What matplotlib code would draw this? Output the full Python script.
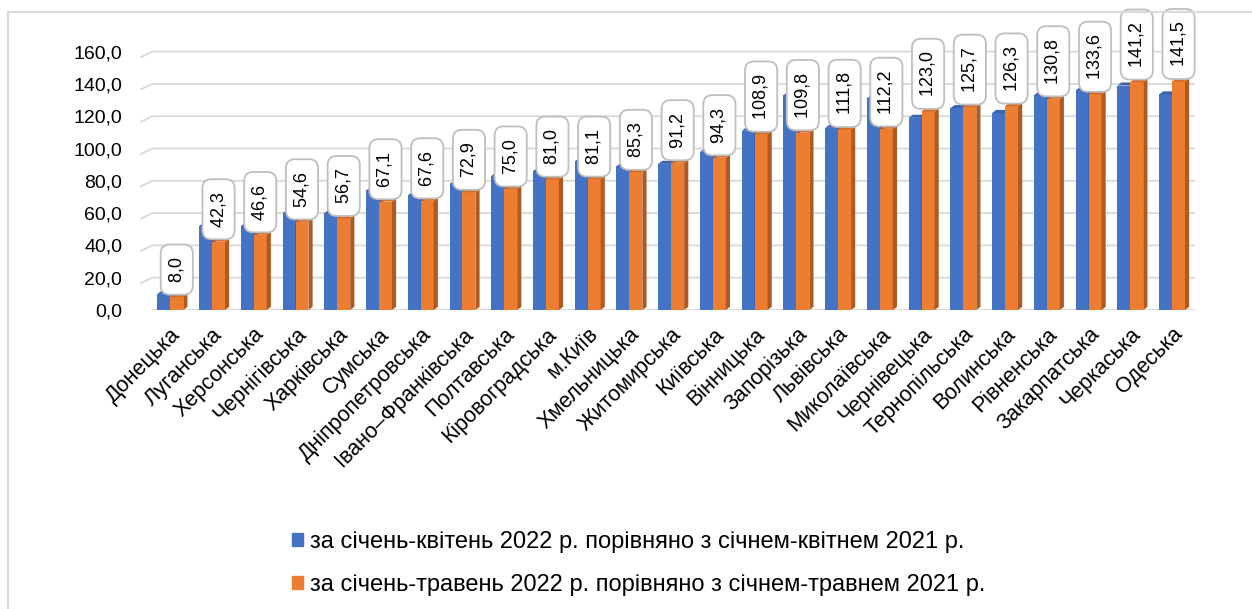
import matplotlib
matplotlib.use("Agg")
import matplotlib.pyplot as plt
from matplotlib.patches import Polygon, Patch
from matplotlib.lines import Line2D
import numpy as np

plt.rcParams["font.family"] = ["Liberation Sans", "DejaVu Sans"]

regions = ["Донецька", "Луганська", "Херсонська", "Чернігівська", "Харківська", "Сумська",
           "Дніпропетровська", "Івано–Франківська", "Полтавська", "Кіровоградська", "м.Київ",
           "Хмельницька", "Житомирська", "Київська", "Вінницька", "Запорізька", "Львівська",
           "Миколаївська", "Чернівецька", "Тернопільська", "Волинська", "Рівненська",
           "Закарпатська", "Черкаська", "Одеська"]
jan_apr = [10.0, 52.0, 52.0, 60.0, 60.0, 74.0, 71.0, 78.0, 83.0, 86.0, 92.0, 89.0, 90.5, 98.0,
           111.0, 133.0, 112.8, 131.0, 119.0, 125.0, 122.0, 133.0, 136.0, 139.0, 133.5]
jan_may = [8.0, 42.3, 46.6, 54.6, 56.7, 67.1, 67.6, 72.9, 75.0, 81.0, 81.1, 85.3, 91.2, 94.3,
           108.9, 109.8, 111.8, 112.2, 123.0, 125.7, 126.3, 130.8, 133.6, 141.2, 141.5]
yticks = [0, 20, 40, 60, 80, 100, 120, 140, 160]
leg_labels = ["за січень-квітень 2022 р. порівняно з січнем-квітнем 2021 р.",
              "за січень-травень 2022 р. порівняно з січнем-травнем 2021 р."]

BLUE, BLUE_SIDE, BLUE_TOP = "#4472C4", "#2F5597", "#3A62B0"
ORANGE, ORANGE_SIDE, ORANGE_TOP = "#ED7D31", "#AE5A21", "#D46A26"
GRID = "#D9D9D9"

fig = plt.figure(figsize=(12.52, 6.09), dpi=100)
ax = fig.add_axes([139 / 1252, 0.491, (1195 - 139) / 1252, 0.464])

x = np.arange(len(regions))
w = 0.31          # front face width
dx, dy = 0.10, 1.9  # depth of the fake 3D extrusion


def bar3d(xl, v, front, side, top, z):
    ax.bar(xl, v, w, align="edge", color=front, zorder=z, linewidth=0)
    ax.add_patch(Polygon([(xl + w, 0), (xl + w + dx, dy), (xl + w + dx, v + dy), (xl + w, v)],
                         closed=True, color=side, lw=0, zorder=z))
    ax.add_patch(Polygon([(xl, v), (xl + dx, v + dy), (xl + w + dx, v + dy), (xl + w, v)],
                         closed=True, color=top, lw=0, zorder=z))


# gridlines with the little perspective kink on the left
for t in yticks:
    ax.plot([-0.72, -0.43, 24.55], [t - 3.6, t, t], color=GRID, lw=1.3, zorder=1,
            solid_capstyle="butt")

for i in x:
    bar3d(i - w, jan_apr[i], BLUE, BLUE_SIDE, BLUE_TOP, 3 + i * 0.01)
    bar3d(i, jan_may[i], ORANGE, ORANGE_SIDE, ORANGE_TOP, 3.005 + i * 0.01)
    ax.annotate(" " + f"{jan_may[i]:.1f}".replace(".", ",") + " ",
                xy=(i + w / 2, jan_may[i] + dy), xytext=(0, 5), textcoords="offset points",
                rotation=90, ha="center", va="bottom", fontsize=13, zorder=10,
                bbox=dict(boxstyle="round,pad=0.42,rounding_size=0.5", fc="white",
                          ec="#BFBFBF", lw=1.3), annotation_clip=False)

ax.set_xlim(-0.75, 24.55)
ax.set_ylim(0, 175)
ax.set_yticks(yticks)
ax.set_yticklabels([f"{t:.1f}".replace(".", ",") for t in yticks], fontsize=14)
ax.set_xticks(x)
ax.set_xticklabels(regions, rotation=45, ha="right", rotation_mode="anchor", fontsize=15.5)
ax.tick_params(length=0)
ax.tick_params(axis="y", pad=12)
ax.tick_params(axis="x", pad=10)
for s in ax.spines.values():
    s.set_visible(False)

handles = [Patch(color=BLUE), Patch(color=ORANGE)]
fig.legend(handles, leg_labels, loc="center", bbox_to_anchor=(0.51, 0.075), frameon=False,
           fontsize=17, handlelength=0.45, handleheight=0.45, handletextpad=0.3,
           labelspacing=0.9)

# outer chart frame (left and top edges visible in the crop)
fig.add_artist(Line2D([8 / 1252, 8 / 1252], [0, 1 - 12 / 609], transform=fig.transFigure,
                      color="#D9D9D9", lw=1.5))
fig.add_artist(Line2D([8 / 1252, 1], [1 - 12 / 609, 1 - 12 / 609], transform=fig.transFigure,
                      color="#D9D9D9", lw=1.5))

fig.savefig("out.png", dpi=100)
